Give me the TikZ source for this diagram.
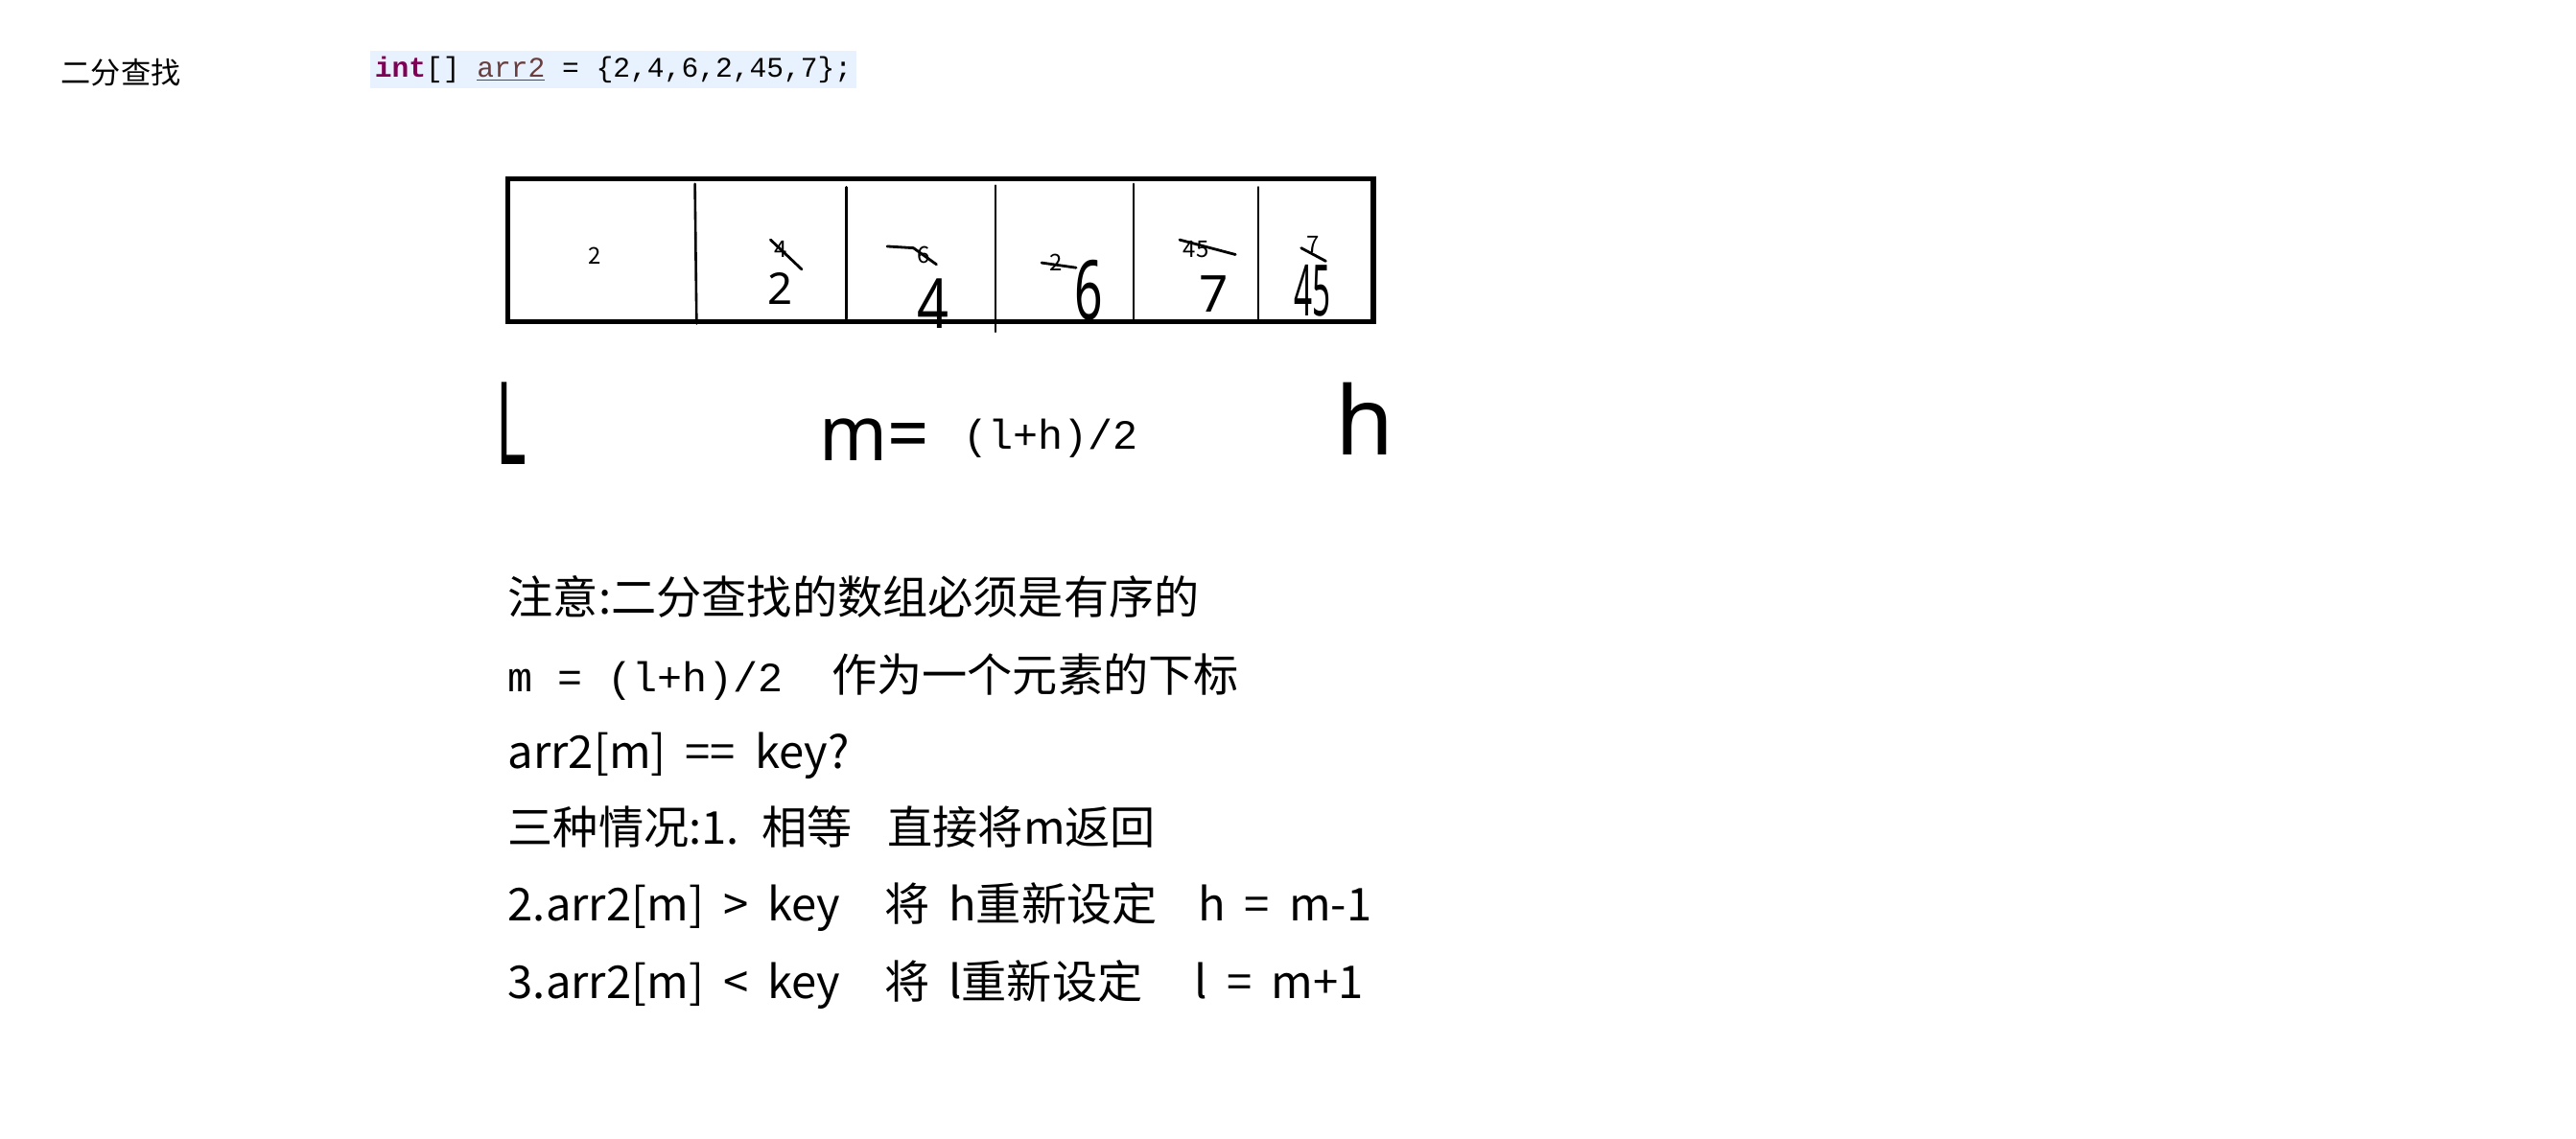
\documentclass[tikz,border=0pt]{standalone}
\usepackage{fontspec}
\usepackage{graphicx}
\setmainfont{Noto Sans CJK SC}[WordSpace=1.9]
\newfontfamily\codefont{Liberation Mono}
\newfontfamily\handfont{Noto Sans}
\definecolor{kwcolor}{RGB}{127,0,85}
\definecolor{varcolor}{RGB}{106,62,62}
\definecolor{hlcolor}{RGB}{232,242,254}

\begin{document}
\begin{tikzpicture}[x=0.8566pt, y=-0.8566pt,
  every node/.style={inner sep=0pt, anchor=base west},
  note/.style={font=\fontsize{23.6}{28}\selectfont},
  mono/.style={font=\codefont\fontsize{21.7}{26}\selectfont},
  hand/.style={anchor=center},
  olddigit/.style={anchor=center, font=\fontsize{12}{14}\selectfont},
  divider/.style={line width=1.3pt, line cap=round},
  strike/.style={line width=1.4pt, line cap=round}]
  \useasboundingbox (0,0) rectangle (1568,693);

  % Title and the array line
  \node[anchor=west, font=\fontsize{15.6}{18}\selectfont] (title) at (37,44) {二分查找};
  \node[anchor=west, fill=hlcolor, minimum height=19.7pt, inner xsep=2.5pt,
        font=\codefont\fontsize{14.8}{17}\selectfont] (code) at (225,42.5)
    {\textcolor{kwcolor}{\bfseries int}[] \textcolor{varcolor}{\underline{arr2}} = \{2,4,6,2,45,7\};};

  % The array box
  \draw[line width=2.6pt] (309,109) rectangle (836,196);
  \draw[divider] (423,112) -- (424,197);
  \draw[divider] (515,114) -- (515,194);
  \draw[divider] (606,113) -- (606,202);
  \draw[divider] (690,112) -- (690,194);
  \draw[divider] (766,114) -- (766,194);

  % old values, crossed out
  \node[olddigit] (c1) at (362,156) {2};
  \node[olddigit] (o4) at (475,152) {4};
  \node[olddigit] (o6) at (562,155) {6};
  \node[olddigit] (o2) at (643,160) {2};
  \node[olddigit] (o45) at (728,152) {45};
  \node[olddigit] (o7) at (799,149) {7};
  \draw[strike] ([shift={(-6,-6)}]o4.center) -- ([shift={(13,12)}]o4.center);
  \draw[strike] ([shift={(-22,-5)}]o6.center) -- ([shift={(-6,-4)}]o6.center) -- ([shift={(8,6)}]o6.center);
  \draw[strike] ([shift={(-9,0)}]o2.center) -- ([shift={(12,3)}]o2.center);
  \draw[strike] ([shift={(-10,-6)}]o45.center) -- ([shift={(24,3)}]o45.center);
  \draw[strike] ([shift={(-7,2)}]o7.center) -- ([shift={(8,10)}]o7.center);

  % new values, by hand
  \node[hand, font=\handfont\fontsize{22.8}{26}\selectfont] (n2) at (475,176) {2};
  \node[hand, font=\handfont\fontsize{36}{40}\selectfont] (n4) at (568,185) {\scalebox{0.8}[1]{4}};
  \node[hand, font=\handfont\fontsize{43}{48}\selectfont] (n6) at (663,177) {\scalebox{0.6}[1]{6}};
  \node[hand, font=\handfont\fontsize{26.5}{30}\selectfont] (n7) at (739,179) {7};
  \node[hand, font=\handfont\fontsize{37}{42}\selectfont] (n45) at (799,177) {\scalebox{0.45}[1]{45}};

  % low, middle, high
  \node[hand, font=\handfont\fontsize{60}{66}\selectfont] (low) at (311,258) {\scalebox{0.5}[1]{L}};
  \node[hand, font=\handfont\fontsize{40}{46}\selectfont] (mid) at (532,268) {\scalebox{0.95}[1]{m=}};
  \node[anchor=west, mono] (midf) at (586,267) {(l+h)/2};
  \node[hand, font=\handfont\fontsize{49.6}{55}\selectfont] (high) at (831,255) {h};

  % Notes
  \node[note] (n1) at (309,374) {注意:二分查找的数组必须是有序的};
  \node[mono] (n2a) at (309,421) {m = (l+h)/2};
  \node[note] (n2b) at (506,421) {作为一个元素的下标};
  \node[note] (n3) at (309,468) {arr2[m] == key?};
  \node[note] (n4a) at (309,514) {三种情况:1. 相等};
  \node[note] (n4b) at (540,514) {直接将m返回};
  \node[note] (n5a) at (309,561) {2.arr2[m] > key};
  \node[note] (n5b) at (538,561) {将 h重新设定};
  \node[note] (n5c) at (729,561) {h = m-1};
  \node[note] (n6a) at (309,608) {3.arr2[m] < key};
  \node[note] (n6b) at (538,608) {将 l重新设定};
  \node[note] (n6c) at (727,608) {l = m+1};

\end{tikzpicture}
\end{document}
